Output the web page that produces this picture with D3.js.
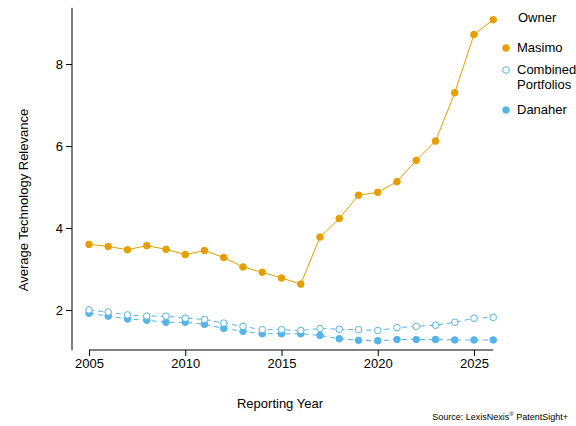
<!DOCTYPE html><html><head><script src="https://cdn.jsdelivr.net/npm/d3@7"></script>
<style>body{margin:0;background:#fff}text{font-family:Arial,"Liberation Sans",sans-serif}</style></head><body>
<script>
const years=d3.range(2005,2027);
const masimo=[3.6,3.55,3.47,3.57,3.48,3.35,3.45,3.28,3.05,2.92,2.78,2.63,3.78,4.23,4.8,4.87,5.13,5.65,6.12,7.3,8.72,9.08];
const combined=[2.0,1.95,1.88,1.85,1.85,1.8,1.77,1.68,1.6,1.52,1.52,1.5,1.55,1.53,1.52,1.5,1.57,1.6,1.63,1.7,1.8,1.82];
const danaher=[1.92,1.85,1.78,1.75,1.7,1.7,1.65,1.55,1.48,1.42,1.42,1.42,1.38,1.3,1.26,1.25,1.28,1.28,1.28,1.27,1.27,1.27];
const xTicks=[2005,2010,2015,2020,2025], yTicks=[2,4,6,8];
const W=576,H=426;
const svg=d3.select("body").append("svg").attr("width",W).attr("height",H);
const x=d3.scaleLinear().domain([2005,2025]).range([89,474]);
const y=d3.scaleLinear().domain([2,8]).range([310,64]);
const gx=svg.append("g").attr("transform","translate(0,350)").call(d3.axisBottom(x).tickValues(xTicks).tickFormat(d3.format("d")).tickSize(6));
gx.select(".domain").attr("d",`M${x(2005)},0H${x(2026)}`);
const gy=svg.append("g").attr("transform","translate(72,0)").call(d3.axisLeft(y).tickValues(yTicks).tickFormat(d3.format("d")).tickSize(6));
gy.select(".domain").attr("d",`M0,${y(1.02)}V${y(9.37)}`);
svg.selectAll(".tick text").attr("font-size",13).attr("fill","#000");
svg.selectAll(".domain,.tick line").attr("stroke","#000");
const line=d3.line().x((d,i)=>x(years[i])).y(d=>y(d));
const series=[{n:"Danaher",v:danaher,c:"#56B4E9",dash:"5,4",fill:true},{n:"Combined",v:combined,c:"#56B4E9",dash:"5,4",fill:false},{n:"Masimo",v:masimo,c:"#E69F00",dash:null,fill:true}];
series.forEach(s=>{
 svg.append("path").attr("d",line(s.v)).attr("fill","none").attr("stroke",s.c).attr("stroke-width",1).attr("stroke-dasharray",s.dash);
 svg.selectAll(null).data(s.v).join("circle").attr("cx",(d,i)=>x(years[i])).attr("cy",d=>y(d)).attr("r",3.3)
  .attr("fill",s.fill?s.c:"#fff").attr("stroke",s.c).attr("stroke-width",1);
});
svg.append("text").attr("x",280).attr("y",408).attr("text-anchor","middle").attr("font-size",13).text("Reporting Year");
svg.append("text").attr("transform","translate(28,200) rotate(-90)").attr("text-anchor","middle").attr("font-size",13).text("Average Technology Relevance");
const lg=svg.append("g");
lg.append("text").attr("x",518).attr("y",22).attr("font-size",13).text("Owner");
[[48,"#E69F00",true,["Masimo"]],[70,"#56B4E9",false,["Combined","Portfolios"]],[110,"#56B4E9",true,["Danaher"]]].forEach(([yy,c,f,t])=>{
 lg.append("circle").attr("cx",506).attr("cy",yy).attr("r",3.3).attr("fill",f?c:"#fff").attr("stroke",c);
 t.forEach((s,i)=>lg.append("text").attr("x",517).attr("y",yy+4+i*15).attr("font-size",13).text(s));
});
const src=svg.append("text").attr("x",568).attr("y",420).attr("text-anchor","end").attr("font-size",9);
src.append("tspan").text("Source: LexisNexis");
src.append("tspan").attr("font-size",6).attr("dy",-4).text("®");
src.append("tspan").attr("dy",4).text(" PatentSight+");
</script></body></html>
